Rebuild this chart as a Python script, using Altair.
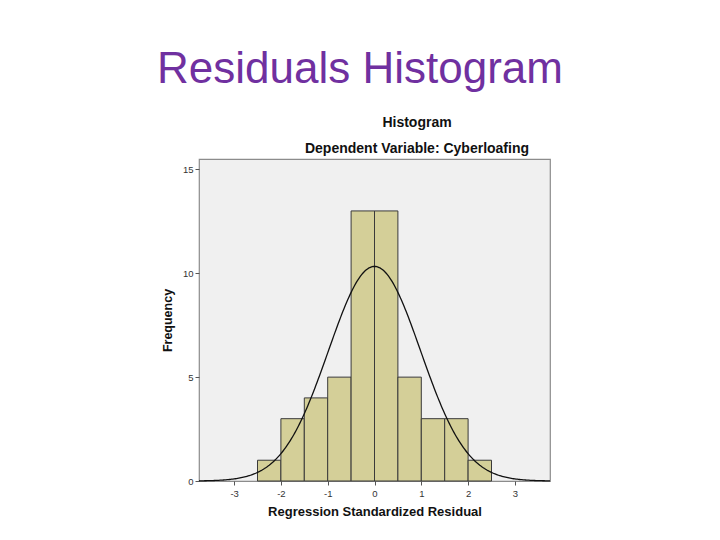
import altair as alt
import pandas as pd
import numpy as np

# Histogram bins (Regression Standardized Residual) and frequencies
bin_start = [-2.5, -2.0, -1.5, -1.0, -0.5, 0.0, 0.5, 1.0, 1.5, 2.0]
bin_end = [-2.0, -1.5, -1.0, -0.5, 0.0, 0.5, 1.0, 1.5, 2.0, 2.5]
counts = [1, 3, 4, 5, 13, 13, 5, 3, 3, 1]

# Fitted normal curve parameters
MEAN = 0.0
SD = 0.985
N = sum(counts)
BIN_W = 0.5

x_ticks = [-3, -2, -1, 0, 1, 2, 3]
y_ticks = [0, 5, 10, 15]

FONT = "Liberation Sans"

bars_df = pd.DataFrame({"start": bin_start, "end": bin_end, "count": counts})
xs = np.linspace(-3.75, 3.75, 301)
curve_df = pd.DataFrame({
    "x": xs,
    "y": N * BIN_W / (SD * np.sqrt(2 * np.pi)) * np.exp(-0.5 * ((xs - MEAN) / SD) ** 2),
})

xscale = alt.Scale(domain=[-3.75, 3.75], nice=False, zero=False)
yscale = alt.Scale(domain=[0, 15.5], nice=False)

xaxis = alt.Axis(values=x_ticks, grid=False, domain=False, tickColor="#555555",
                 tickSize=4, labelFontSize=9.5, labelColor="#333333", labelFont=FONT,
                 labelPadding=3, labelExpr="'' + datum.value",
                 title="Regression Standardized Residual",
                 titleFont=FONT, titleFontSize=13, titleFontWeight="bold",
                 titleColor="#111111", titlePadding=8)
yaxis = alt.Axis(values=y_ticks, grid=False, domain=False, tickColor="#555555",
                 tickSize=4, labelFontSize=9.5, labelColor="#333333", labelFont=FONT,
                 labelPadding=2, title="Frequency", titleFont=FONT, titleFontSize=12.5,
                 titleFontWeight="bold", titleColor="#111111", titlePadding=8)

bars = alt.Chart(bars_df).mark_rect(
    fill="#D4CF98", stroke="#3a3a3a", strokeWidth=1, opacity=1
).encode(
    x=alt.X("start:Q", scale=xscale, axis=xaxis),
    x2="end:Q",
    y=alt.Y("count:Q", scale=yscale, axis=yaxis),
    y2=alt.datum(0),
)

curve = alt.Chart(curve_df).mark_line(color="#111111", strokeWidth=1.3).encode(
    x=alt.X("x:Q", scale=xscale),
    y=alt.Y("y:Q", scale=yscale),
)

def label(txt, x, y, size, weight, color):
    return alt.Chart(pd.DataFrame({"t": [txt]})).mark_text(
        font=FONT, fontSize=size, fontWeight=weight, color=color,
        align="center", baseline="alphabetic"
    ).encode(text="t:N", x=alt.value(x), y=alt.value(y))

slide_title = label("Residuals Histogram", 161, -76, 44, "normal", "#7030A0")
h_title = label("Histogram", 218, -32, 14, "bold", "#111111")
h_sub = label("Dependent Variable: Cyberloafing", 218, -6, 14, "bold", "#111111")

chart = alt.layer(bars, curve, slide_title, h_title, h_sub).properties(
    width=351, height=322,
    autosize=alt.AutoSizeParams(type="none"),
    padding={"left": 191, "top": 151, "right": 162, "bottom": 51},
    background="white",
).configure_view(fill="#F0F0F0", stroke="#8c8c8c", strokeWidth=1.2)

chart.save("out.html", embed_options={"renderer": "svg", "actions": False})
